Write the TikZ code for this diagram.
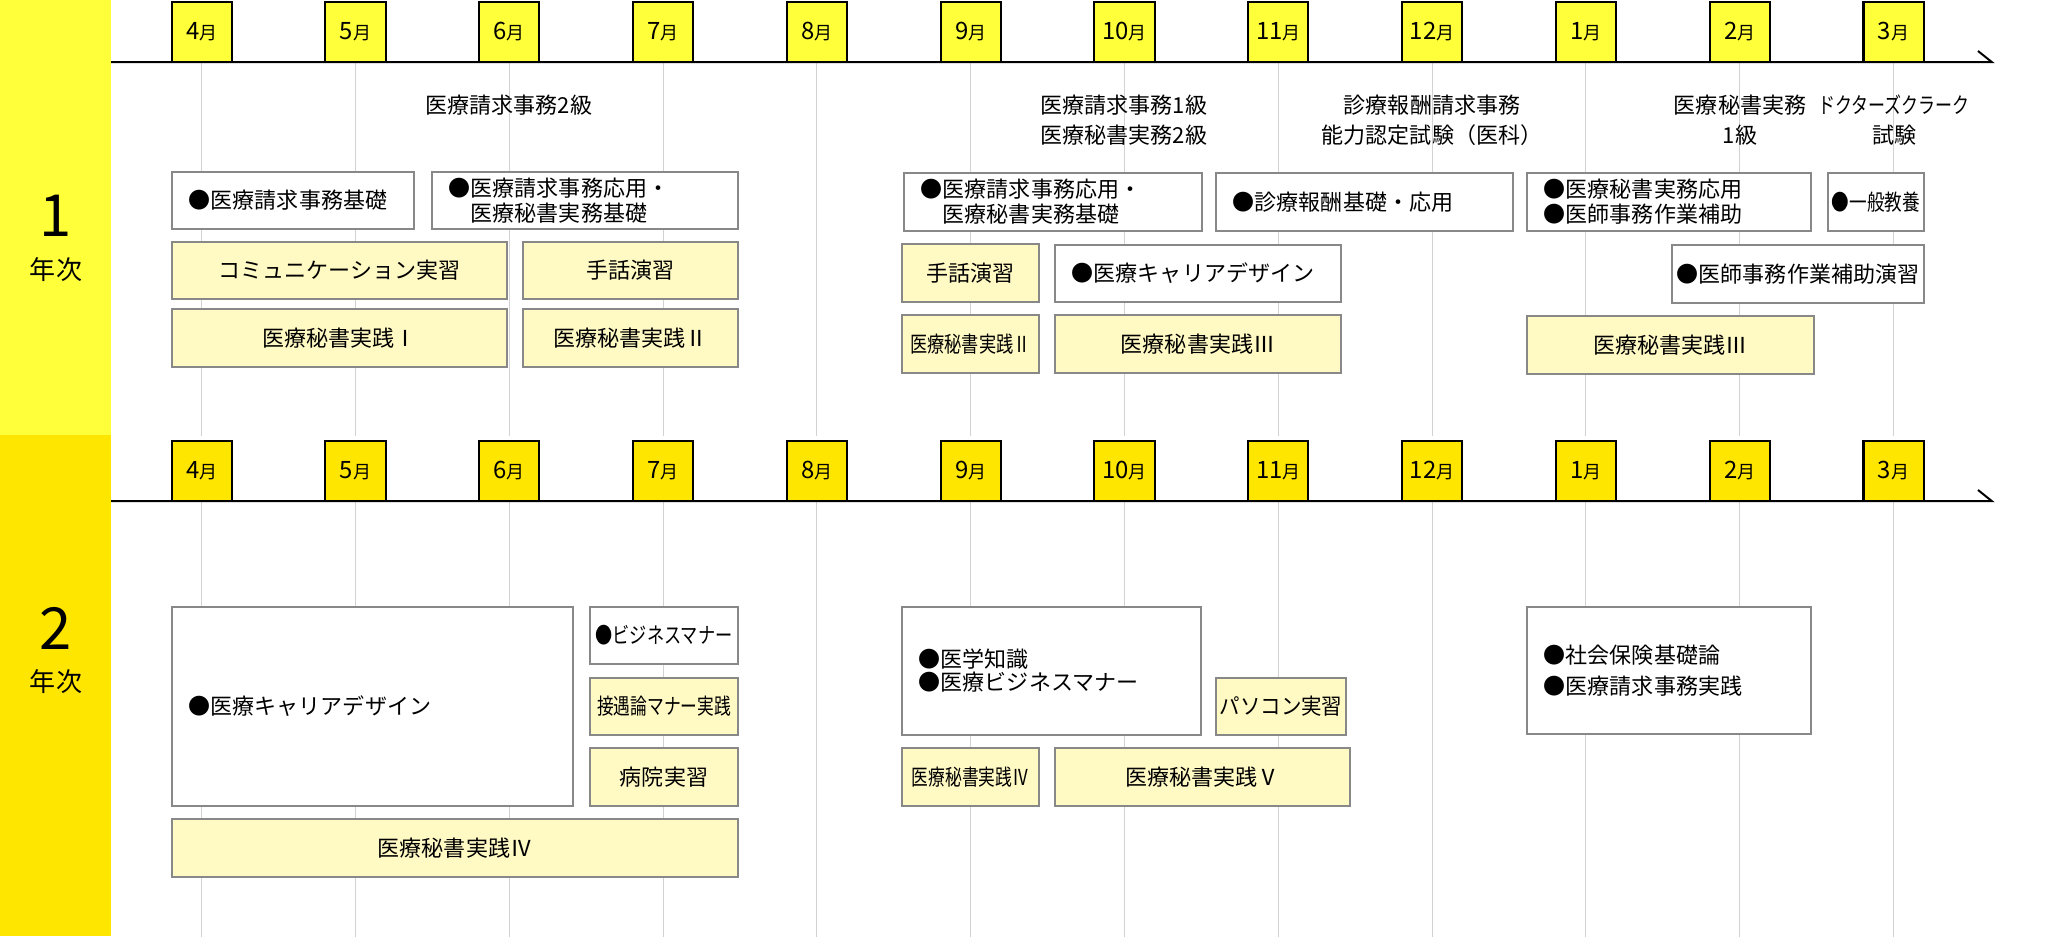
\documentclass[tikz,border=0pt]{standalone}
\usepackage{fontspec}
\setmainfont{Noto Sans CJK JP}
\usepackage{tikz}
\usepackage{graphicx}
\definecolor{cbandA}{RGB}{255,255,58}
\definecolor{cbandB}{RGB}{255,230,0}
\definecolor{cpale}{RGB}{255,249,196}
\definecolor{cedge}{RGB}{136,136,136}
\definecolor{cgrid}{RGB}{210,210,210}
\newcommand{\mlab}[1]{{\fontsize{6.8}{7}\selectfont #1}{\fontsize{5.1}{6}\selectfont 月}}
\newcommand{\narrow}[2]{\scalebox{#1}[1]{#2}}

\begin{document}
\begin{tikzpicture}[x=0.01cm, y=-0.01cm,
  mbox/.style={draw, line width=0.57pt, minimum width=0.60cm, minimum height=0.60cm, inner sep=0pt},
  wbox/.style={draw=cedge, line width=0.57pt, fill=white, inner xsep=0.17cm, inner ysep=0pt,
    align=left, font=\fontsize{6.26}{7.1}\selectfont},
  ybox/.style={wbox, fill=cpale, align=center},
  exam/.style={inner sep=0pt, align=center, font=\fontsize{6.26}{8.5}\selectfont},
  gridl/.style={cgrid, line width=0.3pt},
  axisl/.style={line width=0.57pt}]
\useasboundingbox (0,0) rectangle (2072,936);
% year bands
\fill[cbandA] (0,0) rectangle (111,435);
\fill[cbandB] (0,435) rectangle (111,936);
\node[inner sep=0pt, font=\fontsize{16.5}{18}\selectfont] (yr1) at (56,216) {1};
\node[inner sep=0pt, font=\fontsize{7.4}{8}\selectfont] (yr1t) at (56,270) {年次};
\node[inner sep=0pt, font=\fontsize{16.5}{18}\selectfont] (yr2) at (56,628) {2};
\node[inner sep=0pt, font=\fontsize{7.4}{8}\selectfont] (yr2t) at (56,682) {年次};

% months, 1st year
\node[mbox, fill=cbandA] (u4) at (201.7,32) {\mlab{4}};
\node[mbox, fill=cbandA] (u5) at (355.5,32) {\mlab{5}};
\node[mbox, fill=cbandA] (u6) at (509.3,32) {\mlab{6}};
\node[mbox, fill=cbandA] (u7) at (663.1,32) {\mlab{7}};
\node[mbox, fill=cbandA] (u8) at (816.9,32) {\mlab{8}};
\node[mbox, fill=cbandA] (u9) at (970.7,32) {\mlab{9}};
\node[mbox, fill=cbandA] (u10) at (1124.5,32) {\mlab{10}};
\node[mbox, fill=cbandA] (u11) at (1278.3,32) {\mlab{11}};
\node[mbox, fill=cbandA] (u12) at (1432.1,32) {\mlab{12}};
\node[mbox, fill=cbandA] (u1) at (1585.9,32) {\mlab{1}};
\node[mbox, fill=cbandA] (u2) at (1739.7,32) {\mlab{2}};
\node[mbox, fill=cbandA] (u3) at (1893.5,32) {\mlab{3}};
\draw[gridl] (u4.south) -- ++(0,373) (u5.south) -- ++(0,373) (u6.south) -- ++(0,373)
  (u7.south) -- ++(0,373) (u8.south) -- ++(0,373) (u9.south) -- ++(0,373)
  (u10.south) -- ++(0,373) (u11.south) -- ++(0,373) (u12.south) -- ++(0,373)
  (u1.south) -- ++(0,373) (u2.south) -- ++(0,373) (u3.south) -- ++(0,373);
\draw[axisl] (111,62) -- (1991.7,62) -- (1978,51);

% months, 2nd year
\node[mbox, fill=cbandB] (l4) at (201.7,471) {\mlab{4}};
\node[mbox, fill=cbandB] (l5) at (355.5,471) {\mlab{5}};
\node[mbox, fill=cbandB] (l6) at (509.3,471) {\mlab{6}};
\node[mbox, fill=cbandB] (l7) at (663.1,471) {\mlab{7}};
\node[mbox, fill=cbandB] (l8) at (816.9,471) {\mlab{8}};
\node[mbox, fill=cbandB] (l9) at (970.7,471) {\mlab{9}};
\node[mbox, fill=cbandB] (l10) at (1124.5,471) {\mlab{10}};
\node[mbox, fill=cbandB] (l11) at (1278.3,471) {\mlab{11}};
\node[mbox, fill=cbandB] (l12) at (1432.1,471) {\mlab{12}};
\node[mbox, fill=cbandB] (l1) at (1585.9,471) {\mlab{1}};
\node[mbox, fill=cbandB] (l2) at (1739.7,471) {\mlab{2}};
\node[mbox, fill=cbandB] (l3) at (1893.5,471) {\mlab{3}};
\draw[gridl] (l4.south) -- ++(0,435) (l5.south) -- ++(0,435) (l6.south) -- ++(0,435)
  (l7.south) -- ++(0,435) (l8.south) -- ++(0,435) (l9.south) -- ++(0,435)
  (l10.south) -- ++(0,435) (l11.south) -- ++(0,435) (l12.south) -- ++(0,435)
  (l1.south) -- ++(0,435) (l2.south) -- ++(0,435) (l3.south) -- ++(0,435);
\draw[axisl] (111,501) -- (1991.7,501) -- (1978,490);

% exams
\node[exam] (e1) at (509,105) {医療請求事務2級};
\node[exam] (e2) at (1124,120) {医療請求事務1級\\医療秘書実務2級};
\node[exam] (e3) at (1432,120) {診療報酬請求事務\\能力認定試験（医科）};
\node[exam] (e4) at (1740,120) {医療秘書実務\\1級};
\node[exam] (e5) at (1894,120) {\narrow{0.77}{ドクターズクラーク}\\試験};

% 1st year courses
\node[wbox, text width=2.08cm, minimum height=0.57cm] (b1) at (293,200.5) {●医療請求事務基礎};
\node[wbox, text width=2.72cm, minimum height=0.57cm] (b2) at (585,200.5)
  {●医療請求事務応用・\\\hspace*{1em}医療秘書実務基礎};
\node[ybox, text width=3.01cm, minimum height=0.57cm] (b3) at (339.5,270.5) {コミュニケーション実習};
\node[ybox, text width=1.81cm, minimum height=0.57cm] (b4) at (630.5,270.5) {手話演習};
\node[ybox, text width=3.01cm, minimum height=0.58cm] (b5) at (339.5,338) {医療秘書実践Ⅰ};
\node[ybox, text width=1.81cm, minimum height=0.58cm] (b6) at (630.5,338) {医療秘書実践Ⅱ};
\node[wbox, text width=2.64cm, minimum height=0.58cm] (b7) at (1053,202)
  {●医療請求事務応用・\\\hspace*{1em}医療秘書実務基礎};
\node[ybox, inner xsep=0.04cm, text width=1.29cm, minimum height=0.58cm] (b8) at (970.5,273) {手話演習};
\node[ybox, inner xsep=0.04cm, text width=1.29cm, minimum height=0.58cm] (b9) at (970.5,344)
  {\narrow{0.78}{医療秘書実践Ⅱ}};
\node[wbox, text width=2.52cm, minimum height=0.57cm] (b10) at (1198,273.5) {●医療キャリアデザイン};
\node[ybox, text width=2.52cm, minimum height=0.58cm] (b11) at (1198,344) {医療秘書実践Ⅲ};
\node[wbox, text width=2.63cm, minimum height=0.58cm] (b12) at (1364.5,202) {●診療報酬基礎・応用};
\node[wbox, text width=2.50cm, minimum height=0.58cm] (b13) at (1669,202)
  {●医療秘書実務応用\\●医師事務作業補助};
\node[wbox, align=center, inner xsep=0.04cm, text width=0.88cm, minimum height=0.58cm] (b14) at (1876,202)
  {\narrow{0.8}{●一般教養}};
\node[wbox, align=center, inner xsep=0.04cm, text width=2.44cm, minimum height=0.58cm] (b15) at (1798,274)
  {●医師事務作業補助演習};
\node[ybox, text width=2.53cm, minimum height=0.58cm] (b16) at (1670.5,345) {医療秘書実践Ⅲ};

% 2nd year courses
\node[wbox, text width=3.67cm, minimum height=1.99cm] (c1) at (372.5,706.5) {●医療キャリアデザイン};
\node[wbox, align=center, inner xsep=0.04cm, text width=1.40cm, minimum height=0.57cm] (c2) at (664,635.5)
  {\narrow{0.78}{●ビジネスマナー}};
\node[ybox, inner xsep=0.04cm, text width=1.40cm, minimum height=0.57cm] (c3) at (664,706.5)
  {\narrow{0.76}{接遇論マナー実践}};
\node[ybox, text width=1.14cm, minimum height=0.58cm] (c4) at (664,777) {病院実習};
\node[ybox, text width=5.32cm, minimum height=0.58cm] (c5) at (455,848) {医療秘書実践Ⅳ};
\node[wbox, text width=2.65cm, minimum height=1.28cm, font=\fontsize{6.26}{6.5}\selectfont] (c6) at (1051.5,671)
  {●医学知識\\●医療ビジネスマナー};
\node[ybox, inner xsep=0.04cm, text width=1.29cm, minimum height=0.58cm] (c7) at (970.5,777)
  {\narrow{0.76}{医療秘書実践Ⅳ}};
\node[ybox, inner xsep=0.02cm, text width=1.26cm, minimum height=0.57cm] (c8) at (1281,706.5)
  {\narrow{0.93}{パソコン実習}};
\node[ybox, text width=2.61cm, minimum height=0.58cm] (c9) at (1202.5,777) {医療秘書実践Ⅴ};
\node[wbox, text width=2.50cm, minimum height=1.27cm, font=\fontsize{6.26}{8.8}\selectfont] (c10) at (1669,670.5)
  {●社会保険基礎論\\●医療請求事務実践};
\end{tikzpicture}
\end{document}
